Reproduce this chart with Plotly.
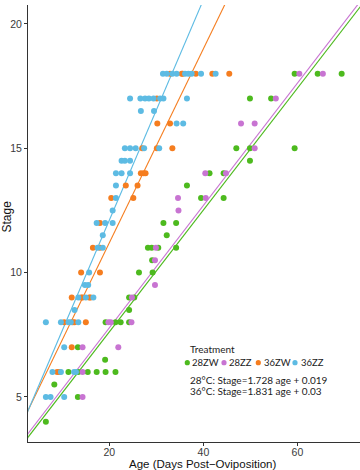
import plotly.graph_objects as go

# ---------------- data ----------------
groups = ["28ZW", "28ZZ", "36ZW", "36ZZ"]
colors = {"28ZW": "#4DBA1E", "28ZZ": "#C874D2", "36ZW": "#F57D1F", "36ZZ": "#5DBBE3"}

age_28ZW = [6.5, 13.3, 8.3, 11.3, 13.4, 15.4, 17.3, 19.2, 21.3, 19.1, 13.3,
            19.2, 21.3, 22.4, 24.2, 24.2, 24.2, 25.3, 26.3, 29.2, 29.1,
            28.2, 29.0, 30.4, 34.2, 32.2, 31.5, 34.2, 39.5, 44.3, 36.5,
            41.3, 44.3, 49.9, 47.0, 49.9, 59.4, 49.9, 54.4, 59.4, 64.3, 69.4]
stage_28ZW = [4, 5, 5.5, 6, 6, 6, 6, 6, 6, 6.5, 7,
              8, 8, 8, 8, 8.5, 9, 9, 10, 10, 10.5,
              11, 11, 11, 11, 11.5, 12, 12, 13, 13, 13.5,
              14, 14, 14.5, 15, 15, 15, 17, 17, 18, 18, 18]

age_28ZZ = [14.3, 14.3, 14.3, 21.9, 19.8, 20.3, 24.7, 24.8, 29.7, 29.7, 29.9,
            34.7, 34.6, 40.5, 40.4, 44.8, 50.9, 48.0, 50.9, 55.4, 60.4, 65.4]
stage_28ZZ = [5, 6, 7, 7, 8, 8, 8, 9, 9.5, 10.5, 11,
              12.5, 13, 13, 14, 14, 15, 16, 16, 17, 18, 18]

age_36ZW = [8.9, 9.4, 12.0, 10.4, 12.2, 12.6, 15.0, 12.0, 14.0, 14.3, 15.7, 16.0,
            14.0, 18.0, 16.5, 18.0, 18.0, 20.4, 25.1, 23.5, 26.0,
            26.7, 27.3, 27.7, 27.0, 30.1, 33.4, 30.2, 32.9, 30.1,
            32.9, 35.4, 35.6, 38.4, 41.9, 45.5]
stage_36ZW = [6, 6, 7, 8, 8, 8, 8, 9, 9, 9, 9, 9,
              10, 10, 11, 11, 12, 13, 13, 13.5, 13.5,
              14, 14, 14, 15, 15, 15, 16, 16, 17,
              18, 18, 18, 18, 18, 18]

age_36ZZ = [6.5, 7.5, 10.4, 7.9, 9.7, 12.5, 12.9, 10.4, 6.5, 9.7, 11.3, 11.8, 13.4,
            12.6, 13.4, 15.0, 16.6, 14.8, 15.5, 15.7, 17.5, 18.6, 18.6,
            17.3, 19.1, 20.7, 20.7, 21.4, 21.4, 21.4, 22.6, 24.4,
            22.6, 23.3, 24.4, 23.3, 24.4, 25.6, 27.4, 30.6, 34.3, 35.7,
            26.7, 29.5, 24.4, 26.6, 27.6, 28.4, 29.4, 30.8, 31.5, 36.5,
            31.4, 32.2, 33.4, 34.3, 36.1, 36.8, 37.5, 39.5, 42.6]
stage_36ZZ = [5, 5, 5, 6, 6, 6, 6, 7, 8, 8, 8, 8, 8,
              8.5, 9, 9, 9, 9.5, 9.5, 10, 11, 11, 11.5,
              12, 12, 12, 12.5, 13, 13.5, 14, 14, 14,
              14.5, 14.5, 14.5, 15, 15, 15, 15, 15, 16, 16,
              16.5, 16.5, 17, 17, 17, 17, 17, 17, 17, 17,
              18, 18, 18, 18, 18, 18, 18, 18, 18]

# fitted lines as drawn (slope, intercept) in stage/day units
fit_slope = {"28ZW": 0.245, "28ZZ": 0.246, "36ZW": 0.390, "36ZZ": 0.443}
fit_intercept = {"28ZW": 2.72, "28ZZ": 2.86, "36ZW": 3.40, "36ZZ": 3.25}
line_x = [0, 80]

x_ticks = [20, 40, 60]
y_ticks = [5, 10, 15, 20]
x_range = [2.70, 73.30]
y_range = [3.19, 20.76]

legend_title = "Treatment"
eq_lines = ["28°C: Stage=1.728 age + 0.019", "36°C: Stage=1.831 age + 0.03"]

data = {
    "28ZW": (age_28ZW, stage_28ZW),
    "28ZZ": (age_28ZZ, stage_28ZZ),
    "36ZW": (age_36ZW, stage_36ZW),
    "36ZZ": (age_36ZZ, stage_36ZZ),
}

# ---------------- figure ----------------
W, H = 360, 470
ML, MR, MT, MB = 28, 0, 5, 28
PW, PH = W - ML - MR, H - MT - MB


def px_x(px):
    return (px - ML) / PW


def px_y(py):
    return (H - MB - py) / PH


fig = go.Figure()

for g in groups:
    xs = line_x
    ys = [fit_intercept[g] + fit_slope[g] * v for v in xs]
    fig.add_trace(go.Scatter(x=xs, y=ys, mode="lines",
                             line=dict(color=colors[g], width=1.1),
                             showlegend=False, hoverinfo="skip"))

for g in groups:
    ax, st = data[g]
    fig.add_trace(go.Scatter(x=ax, y=st, mode="markers",
                             marker=dict(color=colors[g], size=6, line=dict(width=0)),
                             showlegend=False, cliponaxis=True))

axis_common = dict(showline=True, linecolor="#333333", linewidth=1, ticks="outside",
                   ticklen=3, tickcolor="#333333", tickwidth=1, showgrid=False,
                   zeroline=False, tickfont=dict(family="Liberation Sans", size=10.5, color="#3a3a3a"))

fig.update_xaxes(range=x_range, tickvals=x_ticks, ticklabelstandoff=-3, **axis_common)
fig.update_yaxes(range=y_range, tickvals=y_ticks, **axis_common)

annotations = []
shapes = []
# axis titles
annotations.append(dict(text="Age (Days Post\u2212Oviposition)", x=px_x(202.5), y=px_y(463.5),
                        xref="paper", yref="paper", showarrow=False, xanchor="center", yanchor="middle",
                        borderpad=0,
                        font=dict(family="Liberation Sans", size=11.5, color="#111111")))
annotations.append(dict(text="Stage", x=px_x(6.5), y=px_y(217), textangle=-90,
                        xref="paper", yref="paper", showarrow=False, xanchor="center", yanchor="middle",
                        font=dict(family="Liberation Sans", size=12, color="#111111")))

lfont = dict(family="Lato", size=10, color="#222222")
ifont = dict(family="Lato", size=9.5, color="#222222")
annotations.append(dict(text=legend_title, x=px_x(188), y=px_y(349), xref="paper", yref="paper",
                        showarrow=False, xanchor="left", yanchor="middle", font=lfont))
dot_px = [187.3, 224, 258.3, 295]
txt_px = [189.5, 226.5, 261.5, 298.5]
for g, dx, tx in zip(groups, dot_px, txt_px):
    shapes.append(dict(type="circle", xref="paper", yref="paper",
                       xsizemode="pixel", ysizemode="pixel",
                       xanchor=px_x(dx), yanchor=px_y(362.7),
                       x0=-2.6, x1=2.6, y0=-2.6, y1=2.6,
                       fillcolor=colors[g], line=dict(width=0)))
    annotations.append(dict(text=g, x=px_x(tx), y=px_y(362.7), xref="paper", yref="paper",
                            showarrow=False, xanchor="left", yanchor="middle", font=ifont))
for i, t in enumerate(eq_lines):
    annotations.append(dict(text=t, x=px_x(188), y=px_y(380 + 10.5 * i), xref="paper", yref="paper",
                            showarrow=False, xanchor="left", yanchor="middle", font=lfont))

fig.update_layout(width=W, height=H, margin=dict(l=ML, r=MR, t=MT, b=MB),
                  plot_bgcolor="white", paper_bgcolor="white",
                  annotations=annotations, shapes=shapes, showlegend=False)

fig.write_html("out.html", config={"displayModeBar": False},
               post_script="document.body.style.margin='0';document.body.style.padding='0';"
                           "document.body.style.overflow='hidden';")
